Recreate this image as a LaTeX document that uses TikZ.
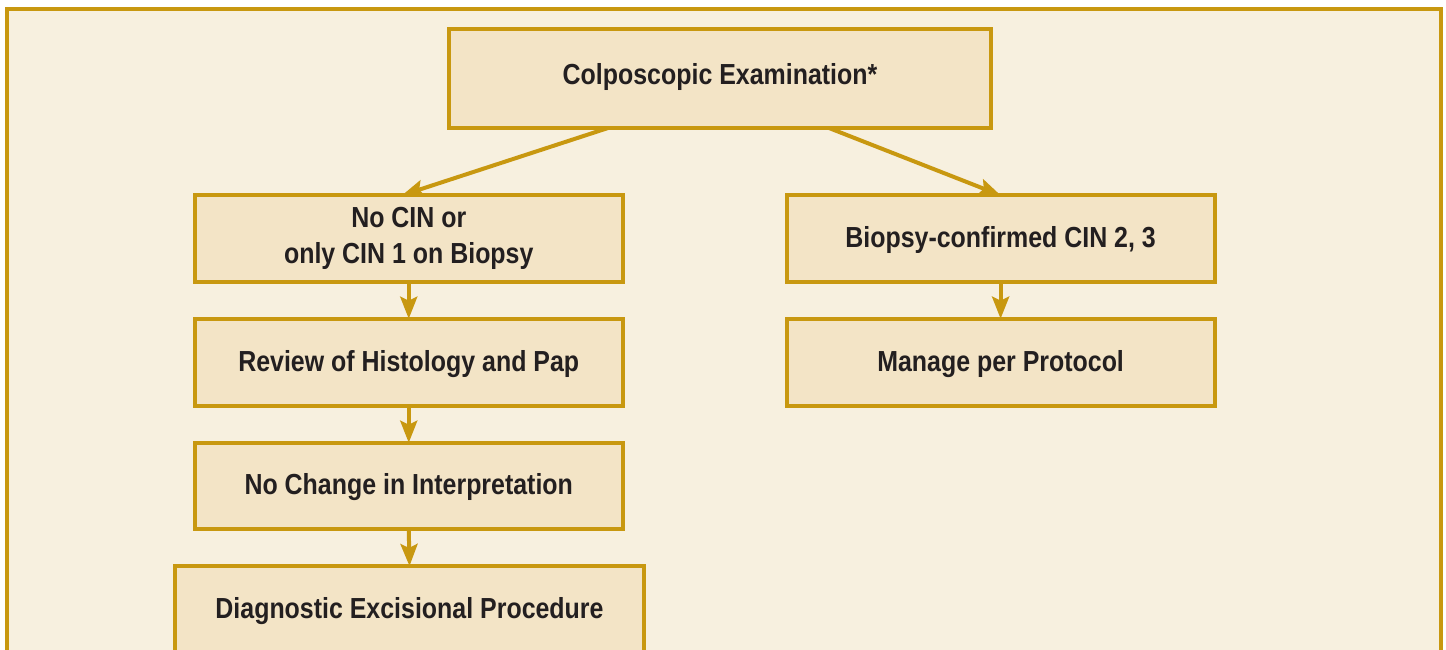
\documentclass[tikz,border=0pt]{standalone}
\usepackage{fontspec}
\setmainfont{Liberation Sans}[FakeStretch=0.86]
\usetikzlibrary{arrows.meta}
\definecolor{gold}{RGB}{200,152,16}
\definecolor{cream}{RGB}{247,240,223}
\definecolor{boxfill}{RGB}{243,228,198}
\definecolor{ink}{RGB}{35,31,32}
\tikzset{
  box/.style={draw=gold, fill=boxfill, line width=4pt, inner sep=0pt, outer sep=0pt,
    text=ink, font=\fontsize{29}{36}\selectfont\bfseries, align=center},
  onel/.style={text height=21pt, text depth=3.7pt},
  arr/.style={draw=gold, line width=4pt, -{Stealth[length=22pt,width=17pt,inset=4pt]}}
}
\begin{document}
\begin{tikzpicture}[x=1pt,y=-1pt]
\useasboundingbox (0,0) rectangle (1446,649);
\clip (0,0) rectangle (1446,649);
\fill[white] (0,0) rectangle (1446,649);
\draw[draw=gold, fill=cream, line width=4pt] (7.3,9.3) rectangle (1441.3,720);
\node[box, minimum width=542pt, minimum height=99pt, text height=21pt, text depth=9.4pt] (top) at (720,78.5) {Colposcopic Examination*};
\node[box, minimum width=428.1pt, minimum height=86.7pt] (L1) at (408.75,238.65) {No CIN or\\only CIN 1 on Biopsy};
\node[box, onel, minimum width=428.2pt, minimum height=86.7pt] (R1) at (1000.6,238.65) {Biopsy-confirmed CIN 2, 3};
\node[box, onel, minimum width=428.1pt, minimum height=87.3pt] (L2) at (408.75,362.35) {Review of Histology and Pap};
\node[box, onel, minimum width=428.2pt, minimum height=87.3pt] (R2) at (1000.6,362.35) {Manage per Protocol};
\node[box, onel, minimum width=428.1pt, minimum height=86pt] (L3) at (408.75,485.7) {No Change in Interpretation};
\node[box, onel, minimum width=469.6pt, minimum height=86.7pt] (L4) at (409.5,609.35) {Diagnostic Excisional Procedure};
\draw[arr] ([xshift=-112pt]top.south) -- ([xshift=-6.75pt]L1.north);
\draw[arr] ([xshift=109pt]top.south) -- (R1.north);
\draw[arr] (L1.south) -- (L2.north);
\draw[arr] (L2.south) -- (L3.north);
\draw[arr] (L3.south) -- (L4.north);
\draw[arr] (R1.south) -- (R2.north);
\end{tikzpicture}
\end{document}
